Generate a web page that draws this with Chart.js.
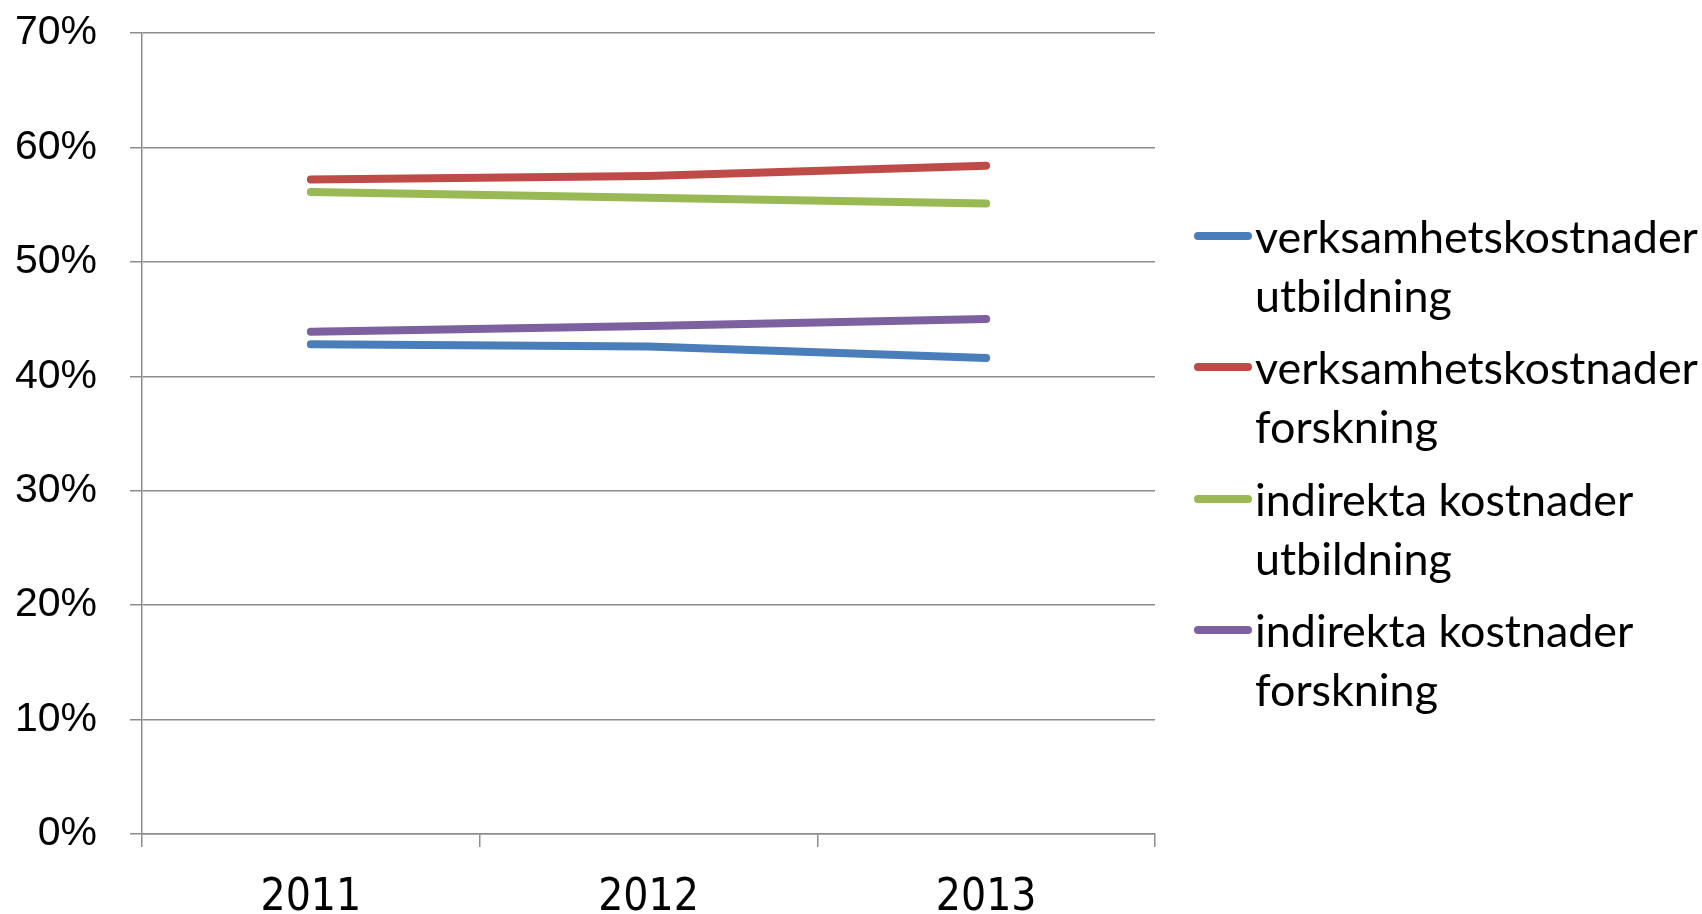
<!DOCTYPE html>
<html>
<head>
<meta charset="utf-8">
<script src="https://cdn.jsdelivr.net/npm/chart.js@4"></script>
<style>
  html, body { margin: 0; padding: 0; background: #fff; }
  #wrap { position: relative; width: 1702px; height: 914px; }
  #c { position: absolute; left: 0; top: 0; }
  #legend { position: absolute; left: 1190px; top: 207px; font-family: Lato, "Open Sans", sans-serif; font-size: 44px; color: #000; }
  .item { position: relative; margin-bottom: 14.3px; }
  .swatch { position: absolute; left: 4px; top: 25px; width: 58px; height: 8px; border-radius: 4px; }
  .txt { margin-left: 65px; width: 450px; line-height: 58.6px; }
</style>
</head>
<body>
<div id="wrap">
  <canvas id="c" width="1702" height="914"></canvas>
  <div id="legend"></div>
</div>
<script>
const categories = ['2011', '2012', '2013'];
const seriesNames = [
  'verksamhetskostnader utbildning',
  'verksamhetskostnader forskning',
  'indirekta kostnader utbildning',
  'indirekta kostnader forskning'
];
const verksamhetUtbildning = [42.8, 42.6, 41.6];
const verksamhetForskning = [57.2, 57.5, 58.4];
const indirektaUtbildning = [56.1, 55.6, 55.1];
const indirektaForskning = [43.9, 44.4, 45.0];
const seriesColors = ['#4A7EBB', '#BE4B48', '#98B954', '#7D60A0'];
const yMin = 0, yMax = 70, yStep = 10;

const seriesValues = [verksamhetUtbildning, verksamhetForskning, indirektaUtbildning, indirektaForskning];

const datasets = seriesNames.map((name, i) => ({
  label: name,
  data: seriesValues[i],
  borderColor: seriesColors[i],
  backgroundColor: seriesColors[i],
  borderWidth: 8,
  borderCapStyle: 'round',
  borderJoinStyle: 'round',
  pointRadius: 0,
  tension: 0,
  fill: false
}));

// fit legend font so the longest word spans ~443px like the reference
const legendFamily = 'Lato, "Open Sans", sans-serif';
const mctx = document.createElement('canvas').getContext('2d');
mctx.font = '100px ' + legendFamily;
const wordW = mctx.measureText('verksamhetskostnader').width;
const legendSize = Math.min(48, 443 * 100 / wordW);

const legend = document.getElementById('legend');
legend.style.fontSize = legendSize.toFixed(2) + 'px';
seriesNames.forEach((name, i) => {
  const item = document.createElement('div');
  item.className = 'item';
  const sw = document.createElement('div');
  sw.className = 'swatch';
  sw.style.background = seriesColors[i];
  const t = document.createElement('div');
  t.className = 'txt';
  t.textContent = name;
  item.appendChild(sw);
  item.appendChild(t);
  legend.appendChild(item);
});

const gridColor = '#8C8C8C';

new Chart(document.getElementById('c'), {
  type: 'line',
  data: { labels: categories, datasets },
  options: {
    responsive: false,
    animation: false,
    devicePixelRatio: 1,
    layout: { padding: { top: 33, right: 547, left: 0, bottom: 0 } },
    plugins: { legend: { display: false }, tooltip: { enabled: false } },
    scales: {
      x: {
        type: 'category',
        offset: true,
        grid: { offset: true, drawOnChartArea: false, drawTicks: true, tickLength: 13, color: gridColor, lineWidth: 1.5 },
        border: { display: true, color: gridColor, width: 1.5 },
        ticks: { color: '#000', padding: 25, maxRotation: 0, font: { family: '"Liberation Sans Narrow", "DejaVu Sans Condensed", sans-serif', size: 44 } },
        afterFit: (s) => { s.height = 80; s.paddingLeft = 0; s.paddingRight = 0; }
      },
      y: {
        min: yMin, max: yMax,
        grid: { color: gridColor, lineWidth: 1.5, drawTicks: true, tickLength: 12 },
        border: { display: true, color: gridColor, width: 1.5 },
        ticks: { stepSize: yStep, color: '#000', padding: 33, callback: (v) => v + '%', font: { family: '"Liberation Sans", Arial, sans-serif', size: 41 } },
        afterFit: (s) => { s.width = 142; s.paddingTop = 0; s.paddingBottom = 0; }
      }
    }
  }
});
</script>
</body>
</html>
